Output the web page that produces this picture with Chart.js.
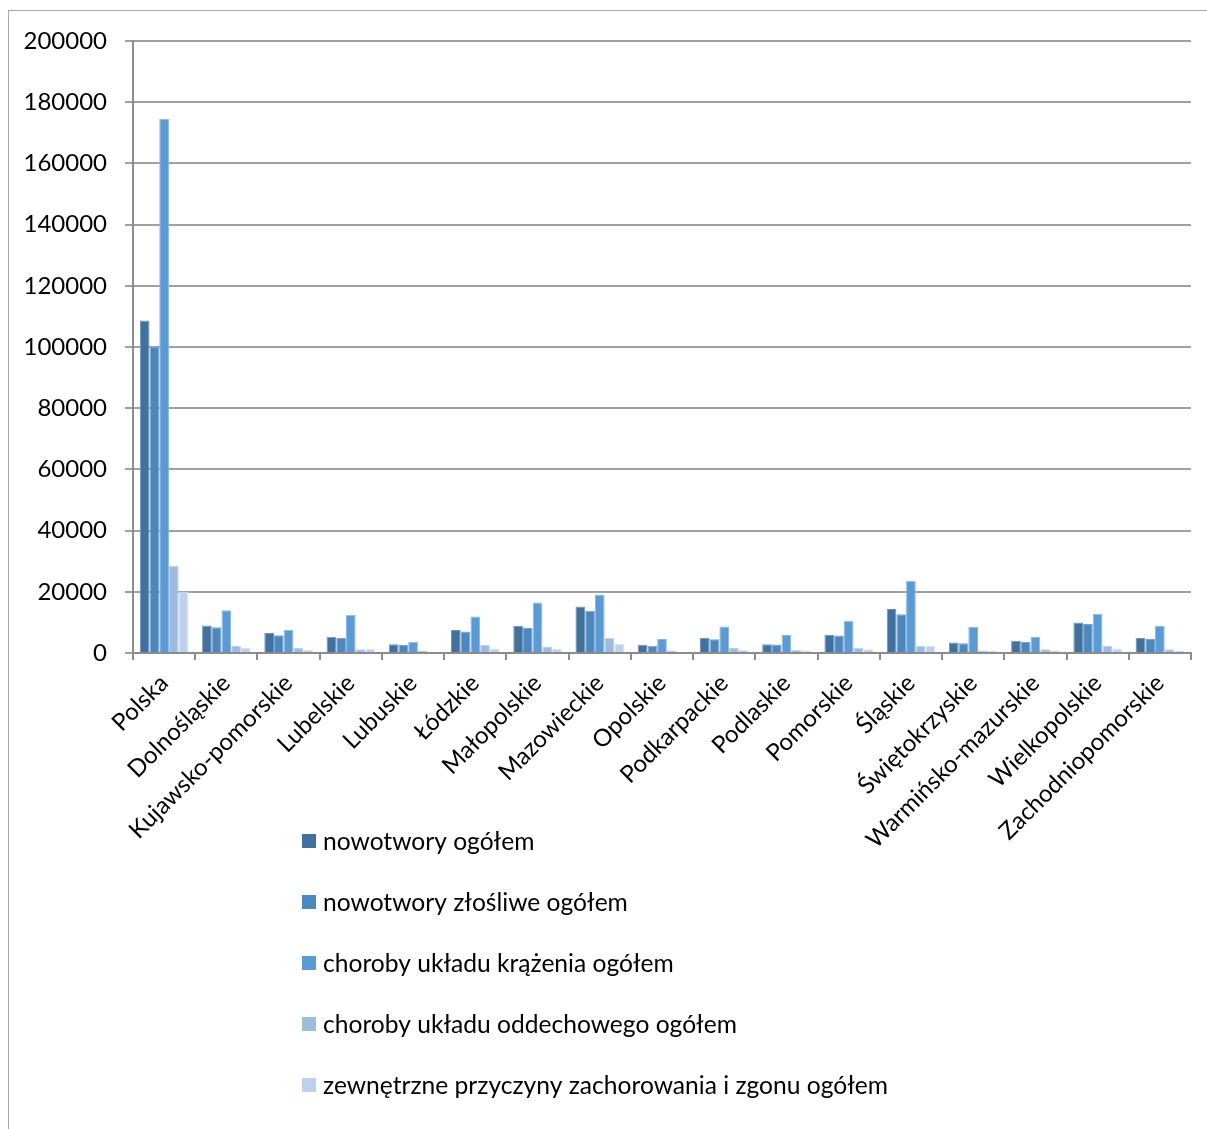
<!DOCTYPE html>
<html>
    <head>
        <meta charset="UTF-8" />
        <title> Zgony według przyczyn </title>
        <style type="text/css">
            body{
                margin: 0;
                background: #ffffff;
                overflow: hidden;
            }
            .frame{
                position: absolute;
                left: 8px;
                top: 10px;
                width: 1210px;
                height: 1140px;
                border: 1.5px solid #a6a6a6;
            }
            .chartBox{
                position: absolute;
                left: 0;
                top: 0;
                width: 1207px;
                height: 1129px;
            }
        </style>
    </head>
    <body>
        <div class="frame"></div>
        <div class="chartBox">
            <canvas id="myChart" width="1207" height="1129"></canvas>
        </div>

        <script src="https://cdn.jsdelivr.net/npm/chart.js"></script>

        <script>
        //data
        const regions = ['Polska', 'Dolnośląskie', 'Kujawsko-pomorskie', 'Lubelskie', 'Lubuskie', 'Łódzkie',
            'Małopolskie', 'Mazowieckie', 'Opolskie', 'Podkarpackie', 'Podlaskie', 'Pomorskie', 'Śląskie',
            'Świętokrzyskie', 'Warmińsko-mazurskie', 'Wielkopolskie', 'Zachodniopomorskie'];
        const seriesNames = ['nowotwory ogółem', 'nowotwory złośliwe ogółem', 'choroby układu krążenia ogółem',
            'choroby układu oddechowego ogółem', 'zewnętrzne przyczyny zachorowania i zgonu ogółem'];
        const nowotwory = [108700, 9000, 6500, 5300, 2900, 7500, 8900, 15200, 2700, 5000, 2900, 6000, 14400, 3400, 4000, 10000, 4900];
        const nowotworyZlosliwe = [100000, 8400, 5800, 4900, 2600, 7000, 8200, 13800, 2400, 4500, 2800, 5700, 12700, 3200, 3600, 9500, 4600];
        const krazenia = [174600, 14000, 7600, 12500, 3700, 11900, 16500, 19100, 4600, 8700, 5900, 10500, 23600, 8600, 5200, 12800, 8800];
        const oddechowe = [28500, 2300, 1600, 1200, 800, 2600, 2100, 5000, 800, 1600, 1100, 1700, 2400, 800, 1200, 2300, 1200];
        const zewnetrzne = [20000, 1600, 1100, 1400, 400, 1500, 1300, 3000, 400, 1100, 800, 1200, 2400, 800, 800, 1500, 800];
        const yTicks = [0, 20000, 40000, 60000, 80000, 100000, 120000, 140000, 160000, 180000, 200000];

        const colors = ['#41729d', '#4c87be', '#5b9bd5', '#9dbae0', '#bdd1ec'];
        const edges = ['#6b93b8', '#78a5cf', '#88b8e4', '#bdd2ec', '#d6e3f4'];
        const allValues = [nowotwory, nowotworyZlosliwe, krazenia, oddechowe, zewnetrzne];

        const fontFamily = 'Lato, Carlito, Calibri, sans-serif';

        //setup
        const data = {
            labels: regions,
            datasets: seriesNames.map((name, i) => ({
                label: name,
                data: allValues[i],
                backgroundColor: colors[i],
                borderColor: edges[i],
                borderWidth: 1,
                categoryPercentage: 0.78,
                barPercentage: 1.0
            }))
        };

        //legend drawn as a vertical list under the axis labels
        const listLegend = {
            id: 'listLegend',
            afterDraw(chart) {
                const ctx = chart.ctx;
                ctx.save();
                ctx.font = '24.6px ' + fontFamily;
                ctx.textBaseline = 'middle';
                ctx.textAlign = 'left';
                chart.data.datasets.forEach((ds, i) => {
                    const y = 841 + i * 61;
                    ctx.fillStyle = ds.backgroundColor;
                    ctx.fillRect(302, y - 7, 14, 14);
                    ctx.fillStyle = '#000000';
                    ctx.fillText(ds.label, 323, y + 1);
                });
                ctx.restore();
            }
        };

        //config
        const config = {
            type: 'bar',
            data,
            options: {
                responsive: false,
                animation: false,
                devicePixelRatio: 1,
                layout: {
                    padding: { top: 41, right: 16, left: 0, bottom: 0 }
                },
                plugins: {
                    legend: { display: false },
                    tooltip: { enabled: false }
                },
                scales: {
                    x: {
                        grid: {
                            drawOnChartArea: false,
                            drawTicks: true,
                            tickLength: 7,
                            color: '#8c8c8c',
                            lineWidth: 2
                        },
                        border: { color: '#8c8c8c', width: 2 },
                        ticks: {
                            autoSkip: false,
                            minRotation: 45,
                            maxRotation: 45,
                            padding: 9,
                            color: '#000000',
                            font: { family: fontFamily, size: 24 }
                        },
                        afterFit(scale) { scale.height = 1129 - 653; }
                    },
                    y: {
                        min: 0,
                        max: 200000,
                        afterBuildTicks(scale) { scale.ticks = yTicks.map(v => ({ value: v })); },
                        grid: {
                            color: '#a0a0a0',
                            lineWidth: 2,
                            tickLength: 8
                        },
                        border: { color: '#8c8c8c', width: 2 },
                        ticks: {
                            padding: 18,
                            color: '#000000',
                            font: { family: fontFamily, size: 24 },
                            callback: (v) => String(v)
                        },
                        afterFit(scale) { scale.width = 133; }
                    }
                }
            },
            plugins: [listLegend]
        };

        //render
        const myChart = new Chart(document.getElementById('myChart'), config);
        </script>
    </body>
</html>
